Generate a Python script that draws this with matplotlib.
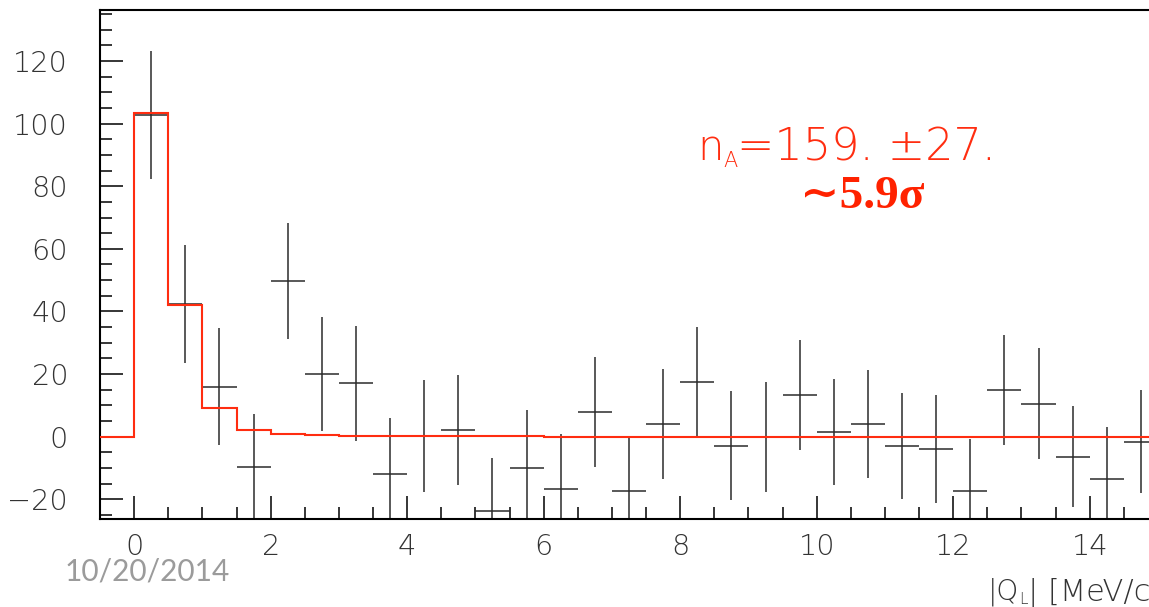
import numpy as np
import matplotlib
matplotlib.use('Agg')
import matplotlib.pyplot as plt
from matplotlib.ticker import MultipleLocator

# measured counts per 0.5 MeV/c bin, bins start at 0
counts = [102.7, 42.4, 16.0, -9.8, 49.8, 20.0, 17.0, -12.0, 0.3, 2.1,
          -23.8, -9.9, -16.7, 7.8, -17.5, 4.0, 17.5, -2.9, -0.2, 13.3,
          1.5, 4.1, -2.9, -4.0, -17.2, 14.9, 10.5, -6.4, -13.4, -1.6]
errors = [20.4, 18.8, 18.6, 17.1, 18.6, 18.1, 18.5, 17.9, 17.9, 17.7,
          16.9, 18.4, 17.5, 17.6, 17.5, 17.6, 17.5, 17.4, 17.6, 17.6,
          17.0, 17.2, 16.9, 17.2, 16.4, 17.5, 17.7, 16.2, 16.6, 16.5]

# fitted histogram, bins start at -0.5
fit = [0, 103.5, 42.2, 9.2, 2.2, 0.9, 0.5, 0.3, 0.25, 0.2, 0.2, 0.2, 0.2,
       0, 0, 0, 0, 0, 0, 0, 0, 0, 0, 0, 0, 0, 0, 0, 0, 0, 0]

bin_width = 0.5
data_start = 0.0
fit_start = -0.5

signif_label = '\u223c5.9\u03c3'
date_label = '10/20/2014'

W, H = 1149, 607
fig = plt.figure(figsize=(W / 100, H / 100), dpi=100)
ax = fig.add_axes([100 / W, (H - 519.3) / H, (1158 - 100) / W, (519.3 - 10) / H])

centers = data_start + bin_width * (np.arange(len(counts)) + 0.5)
edges = fit_start + bin_width * np.arange(len(fit) + 1)

red = '#ff2d10'
dark = '#2b2b2b'
thin = 200  # extra light

ax.stairs(fit, edges, color=red, linewidth=1.5, baseline=None, zorder=3)
ax.errorbar(centers, counts, xerr=bin_width / 2, yerr=errors, fmt='none',
            ecolor=dark, elinewidth=1.1, capsize=0, zorder=2)

ax.set_xlim(-0.5, 15.0)
ax.set_ylim(-26.4, 136.3)

ax.xaxis.set_major_locator(MultipleLocator(2))
ax.xaxis.set_minor_locator(MultipleLocator(0.5))
ax.yaxis.set_major_locator(MultipleLocator(20))
ax.yaxis.set_minor_locator(MultipleLocator(5))

ax.tick_params(which='both', direction='in', top=False, right=False,
               colors='black', width=1.1)
ax.tick_params(which='major', length=16.3)
ax.tick_params(which='minor', length=8.3)
ax.tick_params(axis='y', which='major', pad=23)
ax.tick_params(axis='x', which='major', pad=10)

for lab in ax.get_xticklabels() + ax.get_yticklabels():
    lab.set_fontfamily('DejaVu Sans')
    lab.set_fontweight(thin)
    lab.set_fontsize(20.7)
    lab.set_color('#333333')

for s in ax.spines.values():
    s.set_linewidth(1.5)
    s.set_color('black')

# annotations, positioned in figure pixels
def fx(px):
    return px / W

def fy(py):
    return 1 - py / H

def put(px, py, s, **kw):
    fig.text(fx(px), fy(py), s, va='baseline', ha='left', **kw)

# fit result, n with a small subscript A
light = dict(color=red, family='DejaVu Sans', fontweight=thin)
put(697, 160.5, 'n', fontsize=30, **light)
put(723, 167, 'A', fontsize=15, **light)
put(737, 160.5, '=159. \u00b127.', fontsize=32, **light)

put(800, 208, signif_label, color='#ff2200', fontsize=34,
    family=['Liberation Serif', 'DejaVu Serif'], fontweight='bold')

# x title, cut off at the right edge as in the original
gray = dict(color='#333333', family='DejaVu Sans', fontweight=thin)
put(988, 600, '|Q', fontsize=20, **gray)
put(1019, 603.5, 'L', fontsize=11, **gray)
put(1028, 600, '| [MeV/c]', fontsize=22, **gray)

put(65, 580, date_label, color='#9b9b9b', fontsize=21.5, family='Lato')

fig.savefig('out.png', dpi=100)
